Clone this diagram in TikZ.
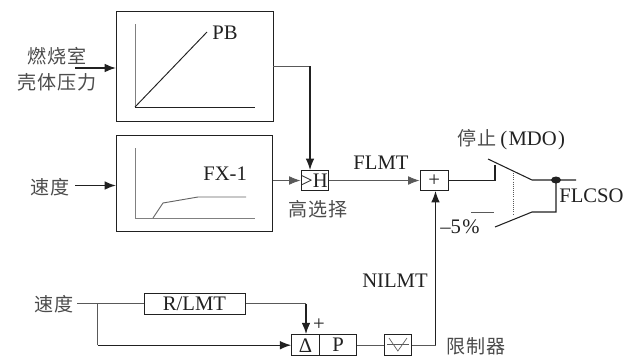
\documentclass[tikz,border=0pt]{standalone}
\usepackage{fontspec}
\setmainfont{Liberation Serif}
\newfontfamily\cjk{Noto Sans CJK SC}[LetterSpace=5]
\usetikzlibrary{arrows.meta}
\definecolor{ink}{gray}{0.13}
\definecolor{cjkink}{gray}{0.3}
\tikzset{
 x=0.75pt,y=-0.75pt,
 box/.style={draw=ink,line width=0.75pt,inner sep=0pt,minimum height=#1*0.75pt},
 thin line/.style={draw=ink!75,line width=0.6pt},
 thick line/.style={draw=ink,line width=0.9pt},
 arr/.style={-{Latex[length=8.5pt,width=6.5pt]}},
 lab/.style={font=\fontsize{15.5pt}{17pt}\selectfont,text=ink,inner sep=0pt},
 cjklab/.style={font=\cjk\fontsize{14.3pt}{16pt}\selectfont,text=cjkink,inner sep=0pt,align=center},
 axis/.style={draw=gray,line width=0.7pt},
 curve/.style={draw=ink,line width=0.7pt},
}
\begin{document}
\begin{tikzpicture}
\useasboundingbox (0,0) rectangle (624,357);
% function boxes
\node[box=110,minimum width=156.5*0.75pt] (pb) at (194.75,66) {};
\node[box=96,minimum width=155.5*0.75pt] (fx) at (194.25,183.5) {};
\draw[axis] (135,24) -- (135,107);
\draw[curve] (135,107) -- (255,107);
\draw[curve] (135,107) -- (207,32);
\node[lab,anchor=west] (pbt) at (212,33) {PB};
\draw[axis] (135,148) -- (135,218) -- (255,218);
\draw[curve,draw=ink!70] (153,218) -- (163,203) -- (198,197) -- (246,197);
\node[lab,anchor=west] (fxt) at (203,174) {FX-1};
% inputs
\node[cjklab] (p1) at (57,56) {燃烧室};
\node[cjklab] (p2) at (57,82) {壳体压力};
\node[cjklab] (v1) at (50,187.5) {速度};
\coordinate (pin) at (75,68);
\coordinate (vin) at (75,185.5);
\draw[thick line,line width=1.2pt,arr] (pin) -- (pin -| pb.west);
\draw[thick line,line width=1.2pt,arr] (vin) -- (vin -| fx.west);
% selector
\node[box=20,minimum width=27*0.75pt] (hi) at (314.5,180.5) {};
\node[lab] (hit) at (314.5,180.5) {>H};
\node[cjklab] (hil) at (318,209) {高选择};
\coordinate (pbo) at (273,66);
\coordinate (pbc) at (310,66);
\draw[thin line] (pbo) -- (pbc);
\draw[thick line,arr] (pbc) -- (pbc |- hi.north);
\draw[thin line,arr] (fx.east |- hi.west) -- (hi.west);
% sum
\node[box=20,minimum width=28.5*0.75pt,lab] (sum) at (434.25,180.5) {+};
\draw[thin line,arr] (hi.east) -- (sum.west);
\node[lab] (flmt) at (381,163) {FLMT};
% switch
\coordinate (s1) at (495,180.5);
\coordinate (s2) at (495,165);
\coordinate (s3) at (488,159);
\coordinate (s4) at (532,180);
\coordinate (s5) at (576,180);
\coordinate (d1) at (556,180);
\coordinate (s6) at (556,212);
\coordinate (s7) at (532,212);
\coordinate (s8) at (495,227);
\coordinate (m1) at (471,212);
\coordinate (m2) at (494,212);
\coordinate (t1) at (513.5,173);
\coordinate (t2) at (513.5,215);
\draw[thick line,line width=0.8pt] (sum.east) -- (s1) -- (s2);
\draw[thick line,line width=0.8pt] (s3) -- (s4) -- (s5);
\draw[thick line,line width=0.8pt] (d1) -- (s6) -- (s7) -- (s8);
\draw[thin line,densely dotted,line width=0.4pt] (t1) -- (t2);
\draw[thin line] (m1) -- (m2);
\fill[ink] (d1) ellipse (5 and 3.5);
\node[lab,anchor=west] (mdo) at (457,140) {{\cjk\fontsize{14.3pt}{16pt}\selectfont\color{cjkink}停止}\kern3pt(\kern1pt MDO\kern1pt)};
\node[lab,anchor=west] (five) at (440,227) {–5\kern1pt\%};
\node[lab,anchor=west] (flcso) at (559,196) {FLCSO};
% lower row
\node[cjklab] (v2) at (54,304) {速度};
\node[box=21,minimum width=101*0.75pt,lab] (rl) at (194.5,303.5) {R/LMT};
\node[box=21,minimum width=27.6*0.75pt,lab] (dl) at (305.5,345.2) {Δ};
\node[box=21,minimum width=37.4*0.75pt,lab] (pp) at (338,345.2) {P};
\node[box=21,minimum width=27.7*0.75pt] (lim) at (397.85,345.2) {};
\coordinate (l1) at (389,338);
\coordinate (l2) at (397.85,351);
\coordinate (l3) at (407,338);
\coordinate (l4) at (387,344.5);
\coordinate (l5) at (409,344.5);
\draw[thin line,line width=0.5pt] (l1) -- (l2) -- (l3);
\draw[thin line,line width=0.4pt] (l4) -- (l5);
\node[lab] (plus) at (319,325) {+};
\node[cjklab] (liml) at (476,346) {限制器};
\node[lab] (nil) at (395,281) {NILMT};
\coordinate (v2o) at (77,303.5);
\coordinate (br) at (97.5,303.5);
\coordinate (rlc) at (306,303.5);
\coordinate (up) at (435.5,345.2);
\draw[thin line] (v2o) -- (rl.west);
\draw[thin line] (br) -- (br |- dl.west);
\draw[thick line,arr] (br |- dl.west) -- (dl.west);
\draw[thin line] (rl.east) -- (rlc);
\draw[thick line,line width=1.2pt,arr] (rlc) -- (rlc |- dl.north);
\draw[thin line] (pp.east) -- (lim.west);
\draw[thin line] (lim.east) -- (up);
\draw[thick line,arr] (up) -- (up |- sum.south);
\end{tikzpicture}
\end{document}
